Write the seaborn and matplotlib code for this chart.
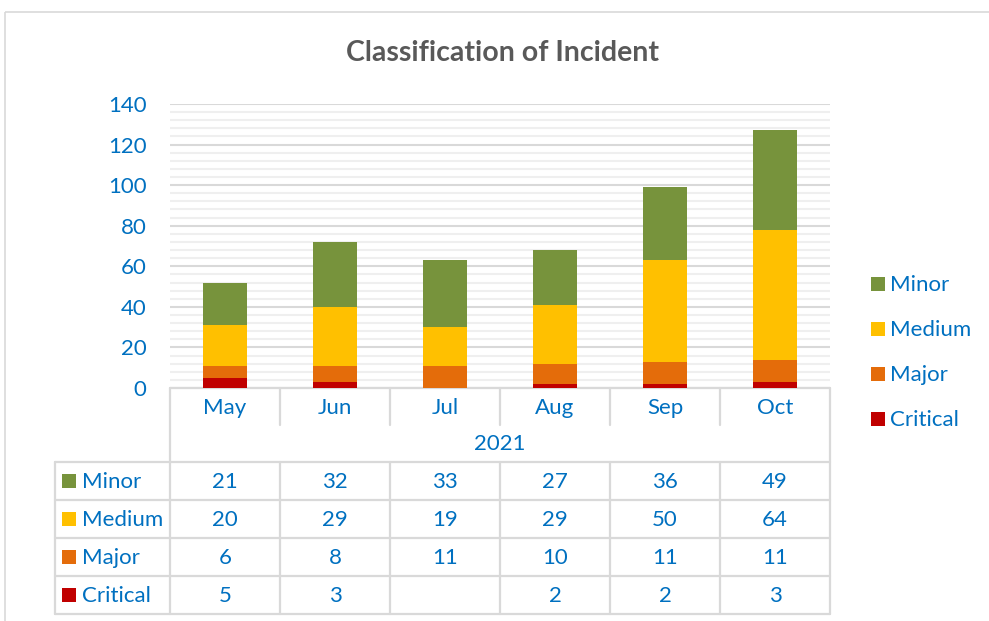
import matplotlib
matplotlib.use("Agg")
import matplotlib.pyplot as plt
import seaborn as sns
import pandas as pd
import numpy as np
from matplotlib.patches import Rectangle
from matplotlib.ticker import MultipleLocator

# ---- data ----
months = ["May", "Jun", "Jul", "Aug", "Sep", "Oct"]
year_label = "2021"
series = ["Minor", "Medium", "Major", "Critical"]
minor = [21, 32, 33, 27, 36, 49]
medium = [20, 29, 19, 29, 50, 64]
major = [6, 8, 11, 10, 11, 11]
critical = [5, 3, None, 2, 2, 3]
title = "Classification of Incident"
colors = {"Minor": "#77933C", "Medium": "#FFC000", "Major": "#E46C0A", "Critical": "#C00000"}
values = {"Minor": minor, "Medium": medium, "Major": major, "Critical": critical}

sns.set_theme(style="white")
plt.rcParams['font.family'] = ['Lato', 'DejaVu Sans']

TXT = "#0070C0"
GRID = "#D9D9D9"
FS = 16

W, H = 989, 621
fig = plt.figure(figsize=(W / 100, H / 100), dpi=100)


def fx(x):
    return x / W


def fy(y):
    return 1 - y / H


# overlay axes in pixel coordinates for the frame, table and legend
ov = fig.add_axes([0, 0, 1, 1])
ov.set_xlim(0, W)
ov.set_ylim(H, 0)
ov.axis("off")
ov.add_patch(Rectangle((5, 12), 1100, 800, fill=False, ec="#D9D9D9", lw=1.2))

# ---- main stacked bar axes ----
ax = fig.add_axes([fx(170), fy(388), 660 / W, 284 / H])
stack_order = ["Critical", "Major", "Medium", "Minor"]
cum = np.zeros(len(months))
rows = []
for s in stack_order:
    vals = np.array([v if v is not None else 0 for v in values[s]], dtype=float)
    cum = cum + vals
    for m, t in zip(months, cum):
        rows.append({"month": m, "series": s, "top": t})
df = pd.DataFrame(rows)

for s in ["Minor", "Medium", "Major", "Critical"]:
    sub = df[df["series"] == s]
    sns.barplot(data=sub, x="month", y="top", order=months, color=colors[s],
                width=0.4, saturation=1, ax=ax, linewidth=0)

ax.set_ylim(0, 140)
ax.set_xlim(-0.5, len(months) - 0.5)
ax.yaxis.set_major_locator(MultipleLocator(20))
ax.yaxis.set_minor_locator(MultipleLocator(4))
ax.grid(which="major", axis="y", color=GRID, lw=1.5)
ax.grid(which="minor", axis="y", color="#EFEFEF", lw=1.5)
ax.set_axisbelow(True)
for sp in ax.spines.values():
    sp.set_visible(False)
ax.set_xlabel("")
ax.set_ylabel("")
ax.tick_params(axis="y", which="both", length=0, pad=17, labelsize=FS, labelcolor=TXT)
ax.tick_params(axis="x", length=0, pad=7, labelsize=FS, labelcolor=TXT)
ax.patch.set_alpha(0)

# ---- title ----
fig.text(fx(503), fy(53), title, ha="center", va="center", fontsize=20.5,
         weight="bold", color="#595959")

# ---- data table ----
lw = 1.6
xs = [170 + 110 * i for i in range(len(months) + 1)]
row_edges = [462, 500, 538, 576, 614]
# header area
ov.plot([170, 830], [388, 388], color=GRID, lw=lw)
for x in xs[1:-1]:
    ov.plot([x, x], [388, 425], color=GRID, lw=lw)
ov.plot([170, 170], [388, 614], color=GRID, lw=lw)
ov.plot([830, 830], [388, 614], color=GRID, lw=lw)
ov.plot([55, 55], [462, 614], color=GRID, lw=lw)
for y in row_edges:
    ov.plot([55, 830], [y, y], color=GRID, lw=lw)
for x in xs[1:-1]:
    ov.plot([x, x], [462, 614], color=GRID, lw=lw)
ov.text(500, 444, year_label, ha="center", va="center", fontsize=FS, color=TXT)

for r, s in enumerate(series):
    yc = (row_edges[r] + row_edges[r + 1]) / 2
    ov.add_patch(Rectangle((62, yc - 7), 14, 14, color=colors[s], lw=0))
    ov.text(82, yc + 1, s, ha="left", va="center", fontsize=FS, color=TXT)
    for i, v in enumerate(values[s]):
        if v is not None:
            ov.text(225 + 110 * i, yc + 1, str(v), ha="center", va="center", fontsize=FS, color=TXT)

# ---- legend ----
for k, s in enumerate(series):
    yc = 284 + 45 * k
    ov.add_patch(Rectangle((871, yc - 7), 14, 14, color=colors[s], lw=0))
    ov.text(890, yc + 1, s, ha="left", va="center", fontsize=FS, color=TXT)

fig.savefig("out.png", dpi=100, facecolor="white")
